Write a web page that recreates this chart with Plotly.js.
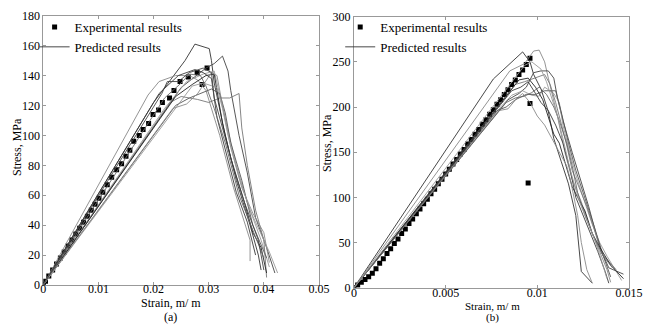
<!DOCTYPE html>
<html><head><meta charset="utf-8">
<script src="https://cdn.plot.ly/plotly-3.0.1.min.js"></script>
<style>html,body{margin:0;padding:0;background:#fff}#chart{width:653px;height:324px}</style>
</head><body><div id="chart"></div>
<script>
// ---------- Panel (a) data ----------
const expA_strain = [0,0.0004,0.001,0.0017,0.0024,0.0031,0.0038,0.0045,0.0052,0.0059,0.0066,0.0073,0.008,0.0087,0.0094,0.0101,0.0108,0.0116,0.0124,0.0133,0.0142,0.015,0.0157,0.0164,0.0174,0.0181,0.0191,0.0199,0.0209,0.0216,0.0229,0.0237,0.0248,0.0263,0.0279,0.0297,0.0288];
const expA_stress = [0,2.5,6,10,14,18,22,26,30,34,38,42,46,50,54,58,62,67,72,77,81,86,90,96,100,104,108,114,117,122,125,130,136,139,142,145,134];

const predA_strain = [
 [0,0.02,0.0257,0.0275,0.0301,0.0305,0.031,0.033,0.035,0.0375,0.039,0.0395],
 [0,0.019,0.021,0.024,0.0265,0.028,0.0295,0.032,0.0345,0.0375,0.0375],
 [0,0.025,0.0295,0.031,0.0325,0.0335,0.034,0.0355,0.037,0.0385,0.0405,0.042],
 [0,0.022,0.026,0.029,0.031,0.0315,0.033,0.035,0.037,0.0395,0.041],
 [0,0.024,0.0265,0.029,0.0305,0.032,0.033,0.034,0.036,0.038,0.0405],
 [0,0.023,0.025,0.028,0.03,0.032,0.0338,0.0355,0.036,0.037,0.0385,0.04,0.0405],
 [0,0.024,0.027,0.0295,0.031,0.0315,0.0325,0.034,0.0365,0.038,0.0395,0.0405],
 [0,0.0235,0.026,0.028,0.0305,0.0315,0.0325,0.034,0.036,0.038,0.04,0.041],
 [0,0.021,0.0245,0.0275,0.029,0.0305,0.0315,0.033,0.035,0.037,0.0385],
 [0,0.022,0.025,0.0265,0.0285,0.0295,0.031,0.033,0.0355,0.0385,0.04],
 [0,0.026,0.027,0.029,0.0315,0.0325,0.0335,0.0355,0.0375,0.0395,0.041,0.0425],
 [0,0.0215,0.0225,0.0245,0.0265,0.029,0.0305,0.031,0.0325,0.0345,0.0365,0.039,0.04]
];
const predA_stress = [
 [0,122,150,161,158,150,135,100,70,40,20,10],
 [0,127,136,140,140,137,130,100,65,30,16],
 [0,132,145,148,153,143,130,100,75,45,25,8],
 [0,118,136,141,143,135,110,80,55,30,12],
 [0,120,125,129,131,128,115,95,70,40,18],
 [0,122,126,124,122,125,125,128,105,80,50,30,5],
 [0,126,134,140,141,130,108,85,55,35,25,8],
 [0,118,121,128,142,140,120,92,65,48,35,15],
 [0,128,140,144,142,138,112,90,62,42,20],
 [0,125,135,141,140,133,118,95,60,32,18],
 [0,128,133,135,132,118,100,72,50,34,22,8],
 [0,128,136,136,142,145,142,125,105,78,55,30,10]
];

// ---------- Panel (b) data ----------
const expB_strain = [0,0.0002,0.0004,0.0006,0.0008,0.001,0.0012,0.0014,0.0016,0.0018,0.002,0.0022,0.0024,0.0026,0.0028,0.003,0.0032,0.0034,0.0036,0.0038,0.004,0.0042,0.0044,0.0046,0.0048,0.005,0.0052,0.0054,0.0056,0.0058,0.006,0.0062,0.0064,0.0066,0.0068,0.007,0.0072,0.0074,0.0076,0.0078,0.008,0.0082,0.0084,0.0086,0.0088,0.009,0.0092,0.0094,0.0096,0.0096,0.0095];
const expB_stress = [0,3,6,9,12,16,21,27,32,38,43,49,54,60,65,71,76,82,87,93,98,104,109,115,120,126,131,137,142,148,153,159,164,170,175,181,186,192,197,203,208,214,219,225,230,236,241,247,254,204,116];

const predB_strain = [
 [0,0.0076,0.0092,0.0096,0.0098,0.0102,0.0106,0.0109,0.0113,0.0117,0.0121,0.0123,0.0124,0.013],
 [0,0.0085,0.0093,0.0098,0.0101,0.0104,0.0106,0.0108,0.0111,0.0115,0.0119,0.0124,0.0129,0.0134,0.0138,0.014],
 [0,0.0084,0.009,0.0094,0.0098,0.0102,0.0106,0.0109,0.0111,0.0114,0.0119,0.0125,0.0128,0.0132,0.0135,0.0139,0.0147],
 [0,0.008,0.0086,0.0092,0.0097,0.0101,0.0104,0.0109,0.0112,0.0114,0.0117,0.0121,0.0125,0.013,0.0134,0.0138,0.0146],
 [0,0.0078,0.0083,0.0088,0.0094,0.0099,0.0104,0.011,0.0113,0.0117,0.0121,0.0126,0.0131,0.0136,0.014],
 [0,0.0088,0.0093,0.0099,0.0104,0.0107,0.011,0.0113,0.0116,0.0119,0.0124,0.0127,0.0131,0.0135,0.0143],
 [0,0.009,0.0095,0.0099,0.0103,0.0106,0.0109,0.0112,0.0115,0.0119,0.0122,0.0126,0.013,0.0134,0.014,0.0147],
 [0,0.0079,0.0084,0.0089,0.0092,0.0096,0.01,0.0104,0.0108,0.0112,0.0116,0.0118,0.012,0.0122,0.0124,0.0127,0.013],
 [0,0.0086,0.0091,0.0095,0.0099,0.0102,0.0106,0.011,0.0114,0.0118,0.0121,0.0125,0.0129,0.0133,0.0137,0.0139],
 [0,0.0083,0.0088,0.0093,0.0097,0.0101,0.0105,0.0109,0.0112,0.0116,0.0119,0.0122,0.0126,0.0131,0.0136,0.0141],
 [0,0.0093,0.0097,0.0102,0.0105,0.0108,0.0111,0.0114,0.0118,0.0123,0.0127,0.0131,0.0135,0.0138]
];
const predB_stress = [
 [0,231,261,250,236,220,195,165,140,115,80,40,18,5],
 [0,240,248,262,263,250,232,215,190,150,120,95,65,40,20,6],
 [0,208,215,222,238,240,240,232,210,185,150,110,90,60,40,22,15],
 [0,200,213,218,213,212,222,215,205,180,155,125,100,70,50,35,8],
 [0,196,200,208,214,214,218,218,195,160,130,100,68,35,12],
 [0,225,228,232,236,225,205,182,158,130,105,90,65,38,20],
 [0,230,232,222,208,188,170,160,140,112,100,85,60,45,25,10],
 [0,196,198,210,215,205,190,180,165,150,135,120,100,80,50,20,5],
 [0,218,222,228,215,205,196,180,160,130,100,80,62,40,18,5],
 [0,205,210,212,216,222,214,200,185,160,135,105,80,55,35,22],
 [0,246,250,242,228,210,190,165,130,95,75,55,30,10]
];

const lineColors = ['#333','#888','#444','#999','#555','#777','#222','#8a8a8a','#3a3a3a','#666','#999','#444'];
const FONT = 'Liberation Serif';

const traces = [];
function addPanel(expX, expY, pX, pY, xa, ya, leg) {
  traces.push({x: expX, y: expY, xaxis: xa, yaxis: ya, type: 'scatter', mode: 'markers',
    name: 'Experimental results', legend: leg, showlegend: true,
    marker: {symbol: 'square', size: 5, color: '#000'}});
  pX.forEach((xs, i) => {
    traces.push({x: xs, y: pY[i], xaxis: xa, yaxis: ya, type: 'scatter', mode: 'lines',
      name: 'Predicted results', legend: leg, showlegend: i === 0,
      line: {color: lineColors[i % lineColors.length], width: 0.9}});
  });
}
addPanel(expA_strain, expA_stress, predA_strain, predA_stress, 'x', 'y', 'legend');
addPanel(expB_strain, expB_stress, predB_strain, predB_stress, 'x2', 'y2', 'legend2');

const axBase = {
  showgrid: false, zeroline: false, showline: true, linecolor: '#999', linewidth: 1,
  mirror: 'ticks', ticks: 'inside', ticklen: 3, tickcolor: '#999', ticklabelstandoff: 0,
  tickfont: {family: FONT, size: 12, color: '#000'}
};
const legBase = {font: {family: FONT, size: 13, color: '#000'}, bgcolor: 'rgba(0,0,0,0)',
  borderwidth: 0, tracegroupgap: 0, itemwidth: 30, xanchor: 'left', yanchor: 'top'};

const ann = (text, x, y, angle, size) => ({text: text, xref: 'paper', yref: 'paper', x: x/653, y: 1 - y/324,
  xanchor: 'center', yanchor: 'middle', textangle: angle || 0, showarrow: false,
  font: {family: FONT, size: size || 12, color: '#000'}});

const layout = {
  width: 653, height: 324, margin: {l: 0, r: 0, t: 0, b: 0},
  paper_bgcolor: '#fff', plot_bgcolor: '#fff',
  font: {family: FONT, color: '#000'},
  xaxis: Object.assign({}, axBase, {domain: [0.0663, 0.4885], range: [0, 0.05], tickvals: [0,0.01,0.02,0.03,0.04,0.05], ticktext: ['0','0.01','0.02','0.03','0.04','0.05'], anchor: 'y', ticklabelstandoff: -7}),
  yaxis: Object.assign({}, axBase, {domain: [0.1204, 0.9515], range: [0, 180], dtick: 20, anchor: 'x'}),
  xaxis2: Object.assign({}, axBase, {domain: [0.5421, 0.9632], range: [0, 0.015], tickvals: [0,0.005,0.01,0.015], ticktext: ['0','0.005','0.01','0.015'], anchor: 'y2', ticklabelstandoff: -6}),
  yaxis2: Object.assign({}, axBase, {domain: [0.112, 0.9485], range: [0, 300], dtick: 50, anchor: 'x2'}),
  legend: Object.assign({}, legBase, {x: 0.053, y: 0.963}),
  legend2: Object.assign({}, legBase, {x: 0.521, y: 0.963}),
  annotations: [
    ann('Strain, m/ m', 171, 303),
    ann('(a)', 171, 317),
    ann('Stress, MPa', 17, 147, -90),
    ann('Strain, m/ m', 492, 306, 0, 11),
    ann('(b)', 492, 317, 0, 11),
    ann('Stress, MPa', 327, 143, -90)
  ]
};
Plotly.newPlot('chart', traces, layout, {staticPlot: true, displayModeBar: false});
</script></body></html>
